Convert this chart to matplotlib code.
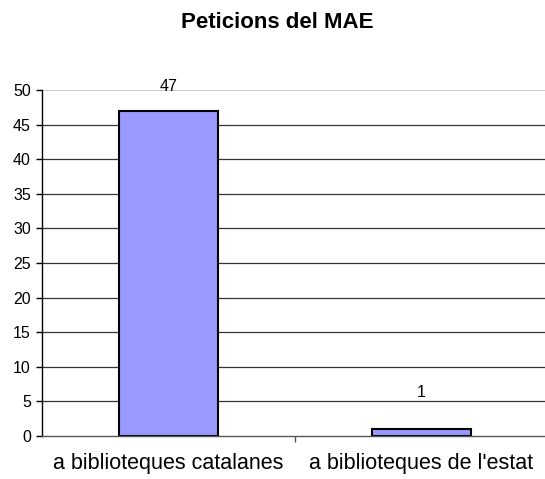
import numpy as np
import matplotlib
matplotlib.use('Agg')
import matplotlib.pyplot as plt

plt.rcParams['font.family'] = ['Liberation Sans', 'DejaVu Sans']

# data
categories = ['a biblioteques catalanes', "a biblioteques de l'estat"]
values = [47, 1]
yticks = [0, 5, 10, 15, 20, 25, 30, 35, 40, 45, 50]

fig = plt.figure(figsize=(5.45, 4.79), dpi=100)
ax = fig.add_axes([42/545, 1 - 436/479, 506/545, 346/479])

x = np.arange(len(categories))
ax.bar(x, values, width=0.39, color='#9999FF', edgecolor='black', linewidth=1.5, zorder=3)

# data labels (pixel offsets above bar top)
label_pad = [17, 29]
for xi, v, pad in zip(x, values, label_pad):
    ax.annotate(str(v), (xi, v), xytext=(0, pad * 0.72), textcoords='offset points',
                ha='center', va='bottom', fontsize=11.5)

ax.set_xlim(-0.5, len(categories) - 0.5)
ax.set_ylim(0, 50)
ax.set_yticks(yticks)
ax.set_yticklabels([str(t) for t in yticks], fontsize=11.5)
for t in yticks[1:-1]:
    ax.axhline(t, color='#333333', linewidth=0.9, zorder=1)
ax.axhline(50, color='#c0c0c0', linewidth=1.2, zorder=1)

ax.set_xticks(x)
ax.set_xticklabels(categories, fontsize=15.5)
ax.tick_params(axis='x', length=0, pad=12)
ax.set_xticks([0.5], minor=True)
ax.tick_params(axis='x', which='minor', length=4, color='#555555', width=1)
ax.tick_params(axis='y', length=4, width=1, color='black', pad=4)

for s in ['top', 'right']:
    ax.spines[s].set_visible(False)
ax.spines['left'].set_color('black')
ax.spines['left'].set_linewidth(1)
ax.spines['bottom'].set_color('#555555')
ax.spines['bottom'].set_linewidth(1)
ax.spines['bottom'].set_zorder(4)

fig.text(277/545, 1 - 23/479, 'Peticions del MAE', ha='center', va='center',
         fontsize=16, fontweight='bold')

fig.savefig('out.png', dpi=100)
